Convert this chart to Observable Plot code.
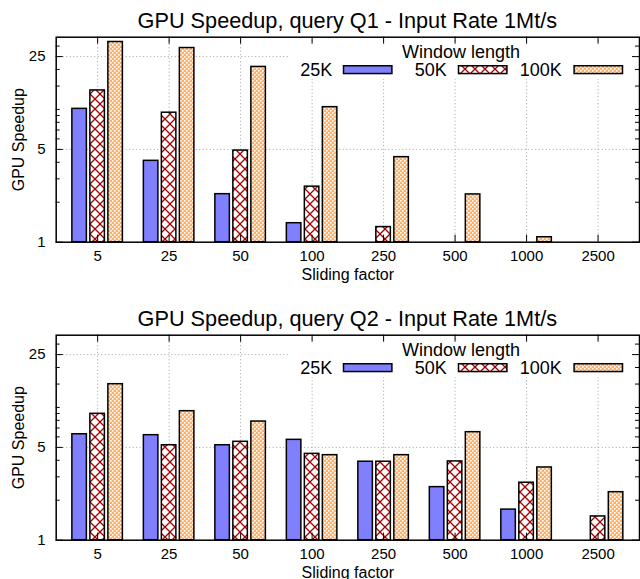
<!DOCTYPE html>
<html><head><meta charset="utf-8">
<script src="https://cdn.jsdelivr.net/npm/d3@7"></script>
<script src="https://cdn.jsdelivr.net/npm/@observablehq/plot@0.6"></script>
<style>
html,body{margin:0;padding:0;background:#fff;overflow:hidden;}
body{font-family:'Liberation Sans',Arial,Helvetica,sans-serif;width:640px;height:579px;}
.panel{width:640px;height:298px;position:relative;overflow:visible;}
.title{margin-left:55.7px;width:583.3px;height:26px;line-height:26px;padding-top:8px;font-size:21.7px;text-align:center;white-space:nowrap;color:#000;}
svg.defs{position:absolute;width:0;height:0;}
</style></head>
<body>
<svg class="defs" width="0" height="0">
  <defs>
    <pattern id="cross" patternUnits="userSpaceOnUse" width="10" height="10">
      <rect width="10" height="10" fill="#fff"/>
      <path d="M0,0L10,10M10,0L0,10" stroke="#a00000" stroke-width="1.3"/>
    </pattern>
    <pattern id="checker" patternUnits="userSpaceOnUse" width="4" height="4">
      <rect width="4" height="4" fill="#ffb060"/>
      <rect x="0" y="0" width="1.6" height="1.6" fill="#fff"/>
      <rect x="2" y="2" width="1.6" height="1.6" fill="#fff"/>
    </pattern>
  </defs>
</svg>
<div id="p1" class="panel"></div>
<div id="p2" class="panel"></div>
<script>
// ---- data ----
const slidingFactors = ["5", "25", "50", "100", "250", "500", "1000", "2500"];
const windowLengths = ["25K", "50K", "100K"];
const q1_25K  = [10.1, 4.1, 2.3, 1.39, null, null, null, null];
const q1_50K  = [13.9, 9.45, 4.9, 2.62, 1.30, null, null, null];
const q1_100K = [32.2, 29.0, 20.9, 10.4, 4.37, 2.29, 1.09, null];
const q2_25K  = [6.28, 6.18, 5.19, 5.70, 3.90, 2.51, 1.70, null];
const q2_50K  = [8.95, 5.19, 5.51, 4.47, 3.90, 3.92, 2.71, 1.51];
const q2_100K = [14.96, 9.37, 7.83, 4.37, 4.37, 6.51, 3.53, 2.30];
const yTicks = [1, 5, 25];
const yMinorTicks = [2, 3, 4, 6, 7, 8, 9, 10, 15, 20, 30];
const titles = ["GPU Speedup, query Q1 - Input Rate 1Mt/s", "GPU Speedup, query Q2 - Input Rate 1Mt/s"];

const fills = ["#8080ff", "url(#cross)", "url(#checker)"];
const offsets = [-18, 0, 18];

function drawPanel(el, title, series) {
  const W = 640, ML = 55.7, MR = 1, MT = 2.7, MB = 56.3, H = 264;
  const PW = W - ML - MR, PH = H - MT - MB;
  const rows = vals => slidingFactors.map((f, i) => ({factor: f, value: vals[i]})).filter(d => d.value != null);
  const t = document.createElement("div");
  t.className = "title"; t.textContent = title;
  el.appendChild(t);
  const grid = {stroke: "#a0a0a0", strokeDasharray: "1,2.5", strokeWidth: 1};
  const svg = Plot.plot({
    width: W, height: H, marginLeft: ML, marginRight: MR, marginTop: MT, marginBottom: MB,
    style: {fontFamily: "'Liberation Sans', Arial, sans-serif", fontSize: "15px", background: "transparent", overflow: "visible", color: "#000"},
    x: {type: "band", domain: slidingFactors, paddingInner: 0.797, paddingOuter: 0.478, round: false},
    y: {type: "log", domain: [1, 35]},
    marks: [
      Plot.ruleX(slidingFactors, {x: d => d, ...grid}),
      Plot.ruleY(yTicks.filter(v => v > 1), {y: d => d, ...grid}),
      ...series.map((vals, k) => Plot.barY(rows(vals), {x: "factor", y1: 1, y2: "value", fill: fills[k], stroke: "#000", strokeWidth: 1.5, dx: offsets[k]})),
      Plot.tickY(yTicks, {y: d => d, insetRight: PW - 7, stroke: "#000"}),
      Plot.tickY(yTicks, {y: d => d, insetLeft: PW - 7, stroke: "#000"}),
      Plot.tickY(yMinorTicks, {y: d => d, insetRight: PW - 4, stroke: "#000"}),
      Plot.tickY(yMinorTicks, {y: d => d, insetLeft: PW - 4, stroke: "#000"}),
      Plot.tickX(slidingFactors, {x: d => d, insetBottom: PH - 7, stroke: "#000"}),
      Plot.tickX(slidingFactors, {x: d => d, insetTop: PH - 7, stroke: "#000"}),
      Plot.axisX({tickSize: 0, tickPadding: 8, fontSize: 15, label: null}),
      Plot.axisY({ticks: yTicks, tickFormat: d => String(d), tickSize: 0, tickPadding: 10.7, fontSize: 15, label: null}),
      Plot.text(["GPU Speedup"], {text: d => d, frameAnchor: "left", textAnchor: "middle", lineAnchor: "middle", rotate: -90, dx: -37.2, fontSize: 16}),
      Plot.text(["Sliding factor"], {text: d => d, frameAnchor: "bottom", textAnchor: "middle", lineAnchor: "middle", dy: 32.3, fontSize: 16}),
      Plot.frame({stroke: "#000", strokeWidth: 1.5})
    ]
  });
  el.appendChild(svg);
  // legend background covering the grid
  const rules = svg.querySelectorAll('g[aria-label="rule"]');
  const last = rules[rules.length - 1];
  const bg = document.createElementNS("http://www.w3.org/2000/svg", "rect");
  bg.setAttribute("x", 289); bg.setAttribute("y", 8); bg.setAttribute("width", 344); bg.setAttribute("height", 37);
  bg.setAttribute("fill", "#fff");
  last.after(bg);
  // legend
  const lg = d3.select(svg).append("g").attr("font-size", 18).attr("fill", "#000");
  lg.append("text").attr("x", 461).attr("y", 23.7).attr("text-anchor", "middle").text("Window length");
  const labelX = [332.3, 446.7, 561.7], swX = [343.5, 458.5, 574.1];
  windowLengths.forEach((w, k) => {
    lg.append("text").attr("x", labelX[k]).attr("y", 41.7).attr("text-anchor", "end").text(w);
    lg.append("rect").attr("x", swX[k]).attr("y", 31.75).attr("width", 48.4).attr("height", 7.8)
      .attr("fill", fills[k]).attr("stroke", "#000").attr("stroke-width", 1.5);
  });
}

drawPanel(document.getElementById("p1"), titles[0], [q1_25K, q1_50K, q1_100K]);
drawPanel(document.getElementById("p2"), titles[1], [q2_25K, q2_50K, q2_100K]);
</script>
</body></html>
